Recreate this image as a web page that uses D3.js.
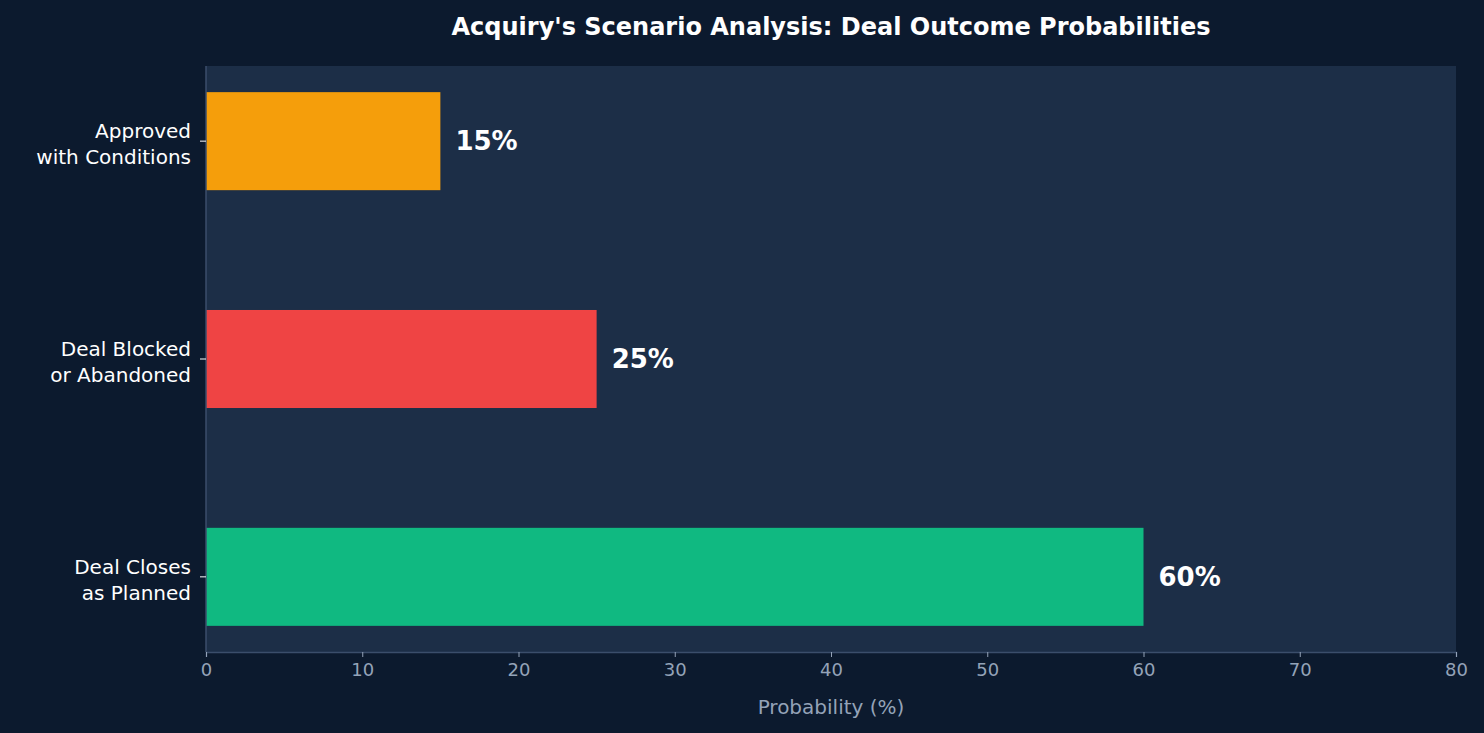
<!DOCTYPE html>
<html>
<head>
<meta charset="utf-8">
<script src="https://cdn.jsdelivr.net/npm/d3@7"></script>
<style>
body { margin:0; background:#0c1a2e; }
text { font-family: "DejaVu Sans", sans-serif; }
</style>
</head>
<body>
<svg id="vis-svg" width="1484" height="733"></svg>
<script>
// Data
var categories = [["Approved", "with Conditions"], ["Deal Blocked", "or Abandoned"], ["Deal Closes", "as Planned"]];
var values = [15, 25, 60];
var colors = ["#f59e0b", "#ef4444", "#10b981"];
var xTicks = [0, 10, 20, 30, 40, 50, 60, 70, 80];

var margin = {top: 66, left: 206, right: 28, bottom: 81};
var width = 1484, height = 733;
var svg = d3.select('#vis-svg');

svg.append('rect').attr('width', width).attr('height', height).attr('fill', '#0c1a2e');

var x = d3.scaleLinear().domain([0, 80]).range([margin.left, width - margin.right]);
var y = d3.scaleLinear().domain([-0.345, 2.345]).range([margin.top, height - margin.bottom]);

// plot area
svg.append('rect')
  .attr('x', x(0)).attr('y', margin.top)
  .attr('width', x(80) - x(0)).attr('height', height - margin.bottom - margin.top)
  .attr('fill', '#1c2e47');

// bars
var barH = 0.45;
svg.selectAll('.bar').data(values).enter().append('rect')
  .attr('x', x(0))
  .attr('y', function(d, i){ return y(i - barH / 2); })
  .attr('width', function(d){ return x(d) - x(0); })
  .attr('height', y(barH) - y(0))
  .attr('fill', function(d, i){ return colors[i]; });

// value labels
svg.selectAll('.val').data(values).enter().append('text')
  .attr('x', function(d){ return x(d) + 15; })
  .attr('y', function(d, i){ return y(i); })
  .attr('dy', '0.35em')
  .attr('fill', '#ffffff').attr('font-size', 26).attr('font-weight', 'bold')
  .text(function(d){ return d + '%'; });

// X axis
var xAxis = svg.append('g')
  .attr('transform', 'translate(0,' + (height - margin.bottom) + ')')
  .call(d3.axisBottom(x).tickValues(xTicks).tickSize(5).tickPadding(6));
xAxis.select('.domain').attr('stroke', '#3b4e6b').attr('stroke-width', 1.5);
xAxis.selectAll('line').attr('stroke', '#94a3b8');
xAxis.selectAll('text').attr('fill', '#94a3b8').attr('font-size', 18).style('font-family', 'DejaVu Sans');

// left spine
svg.append('line')
  .attr('x1', x(0)).attr('x2', x(0))
  .attr('y1', margin.top).attr('y2', height - margin.bottom)
  .attr('stroke', '#3b4e6b').attr('stroke-width', 1.5);

// Y labels and ticks
categories.forEach(function(c, i){
  var yy = y(i);
  svg.append('line').attr('x1', x(0) - 6).attr('x2', x(0))
    .attr('y1', yy).attr('y2', yy).attr('stroke', '#ffffff');
  var t = svg.append('text').attr('text-anchor', 'end')
    .attr('fill', '#ffffff').attr('font-size', 20);
  t.append('tspan').attr('x', x(0) - 15).attr('y', yy - 3).text(c[0]);
  t.append('tspan').attr('x', x(0) - 15).attr('y', yy + 23).text(c[1]);
});

// X label
svg.append('text')
  .attr('x', (x(0) + x(80)) / 2).attr('y', 714)
  .attr('text-anchor', 'middle').attr('fill', '#94a3b8').attr('font-size', 20)
  .text('Probability (%)');

// Title
svg.append('text')
  .attr('x', 831).attr('y', 35)
  .attr('text-anchor', 'middle').attr('fill', '#ffffff')
  .attr('font-size', 24).attr('font-weight', 'bold')
  .text("Acquiry's Scenario Analysis: Deal Outcome Probabilities");
</script>
</body>
</html>
